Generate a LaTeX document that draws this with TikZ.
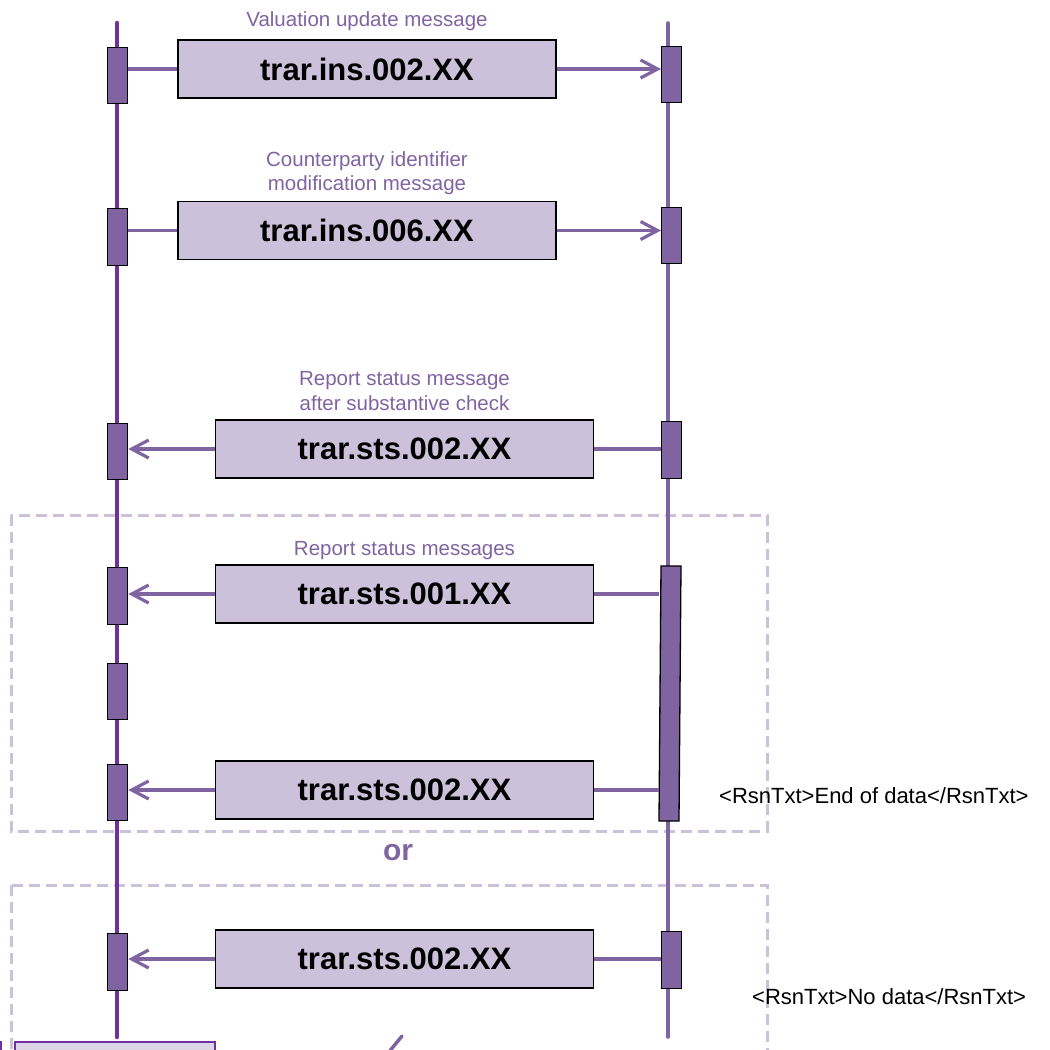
\documentclass[tikz,border=0pt]{standalone}
\usepackage{fontspec}
\setmainfont{Liberation Sans}
\usetikzlibrary{arrows.meta}
\definecolor{lifeA}{HTML}{7030A0}
\definecolor{lifeB}{HTML}{8064A2}
\definecolor{boxfill}{HTML}{CCC1DA}
\definecolor{dashc}{HTML}{CCC1DA}
\definecolor{lightfill}{HTML}{DCD5E6}
\begin{document}
\begin{tikzpicture}[x=1pt,y=-1pt,
  actbar/.style={draw=black, line width=1.3pt, fill=lifeB, minimum width=20pt, inner sep=0pt, anchor=north west},
  msgbox/.style={draw=black, line width=1.8pt, fill=boxfill, minimum width=378pt, minimum height=58pt, inner sep=0pt,
    font=\fontsize{31}{34}\selectfont\bfseries},
  msglabel/.style={text=lifeB, align=center, inner sep=0pt, font=\fontsize{20.5}{24.5}\selectfont},
  conn/.style={draw=lifeB, line width=3.2pt},
  tipR/.style={-{Straight Barb[length=17pt,width=18pt]}},
  dashbox/.style={draw=dashc, line width=3pt, dash pattern=on 11pt off 6pt},
  note/.style={anchor=west, inner sep=0pt, font=\fontsize{22}{25}\selectfont}]
\useasboundingbox (0,0) rectangle (1050,1050);
\clip (0,0) rectangle (1050,1050);

% dashed alternative frames
\draw[dashbox] (11,515) rectangle (767,831);
\draw[dashbox] (11,885) rectangle (767,1070);

% lifelines
\coordinate (lA1) at (117,23);
\coordinate (lA2) at (117,1037);
\coordinate (lB1) at (668,23);
\coordinate (lB2) at (668,1037);
\draw[lifeA, line width=4.5pt, line cap=round] (lA1) -- (lA2);
\draw[lifeB, line width=3.6pt, line cap=round] (lB1) -- (lB2);

% activation bars, left
\node[actbar, minimum height=56pt] (lb1) at (107,47) {};
\node[actbar, minimum height=57pt] (lb2) at (107,208) {};
\node[actbar, minimum height=56pt] (lb3) at (107,423) {};
\node[actbar, minimum height=57pt] (lb4) at (107,567) {};
\node[actbar, minimum height=56pt] (lb5) at (107,663) {};
\node[actbar, minimum height=56pt] (lb6) at (107,764) {};
\node[actbar, minimum height=57pt] (lb7) at (107,933) {};

% activation bars, right
\node[actbar, minimum height=56pt] (rb1) at (661,46) {};
\node[actbar, minimum height=56pt] (rb2) at (661,207) {};
\node[actbar, minimum height=57pt] (rb3) at (661,421) {};
\node[actbar, minimum height=255pt, anchor=center, rotate=-0.45] (rb4) at (670,693.5) {};
\node[actbar, minimum height=57pt] (rb5) at (661,931) {};

% messages
\node[msgbox] (m1) at (367,69) {trar.ins.002.XX};
\node[msgbox] (m2) at (367,230.5) {trar.ins.006.XX};
\node[msgbox] (m3) at (404.5,449) {trar.sts.002.XX};
\node[msgbox] (m4) at (404.5,594) {trar.sts.001.XX};
\node[msgbox] (m5) at (404.5,790) {trar.sts.002.XX};
\node[msgbox] (m6) at (404.5,959) {trar.sts.002.XX};

% labels
\node[msglabel] (t1) at (367,21) {Valuation update message};
\node[msglabel] (t2) at (367,173) {Counterparty identifier\\modification message};
\node[msglabel] (t3) at (404.5,391) {Report status message\\after substantive check};
\node[msglabel] (t4) at (404.5,551) {Report status messages};

% connectors
\draw[conn] (m1.west -| lb1.east) -- (m1.west);
\draw[conn, tipR] (m1.east) -- (m1.east -| rb1.west);
\draw[conn] (m2.west -| lb2.east) -- (m2.west);
\draw[conn, tipR] (m2.east) -- (m2.east -| rb2.west);
\draw[conn, tipR] (m3.west) -- (m3.west -| lb3.east);
\draw[conn] (m3.east) -- (m3.east -| rb3.west);
\draw[conn, tipR] (m4.west) -- (m4.west -| lb4.east);
\draw[conn] (m4.east) -- (m4.east -| rb4.west);
\draw[conn, tipR] (m5.west) -- (m5.west -| lb6.east);
\draw[conn] (m5.east) -- (m5.east -| rb4.west);
\draw[conn, tipR] (m6.west) -- (m6.west -| lb7.east);
\draw[conn] (m6.east) -- (m6.east -| rb5.west);

% or
\node[text=lifeB, inner sep=0pt, font=\fontsize{30}{33}\selectfont\bfseries] (or) at (398,853) {or};

% notes
\node[note] (n1) at (719,796) {<RsnTxt>End of data</RsnTxt>};
\node[note] (n2) at (752,997) {<RsnTxt>No data</RsnTxt>};

% cut-off items at the bottom edge
\draw[draw=lifeA, fill=lightfill, line width=1.5pt] (15,1042) rectangle (215,1080);
\draw[lifeA, line width=2pt] (1,1041) -- (1,1055);
\draw[lifeB, line width=3.5pt, line cap=round] (402,1036) -- (384,1058);
\end{tikzpicture}
\end{document}
